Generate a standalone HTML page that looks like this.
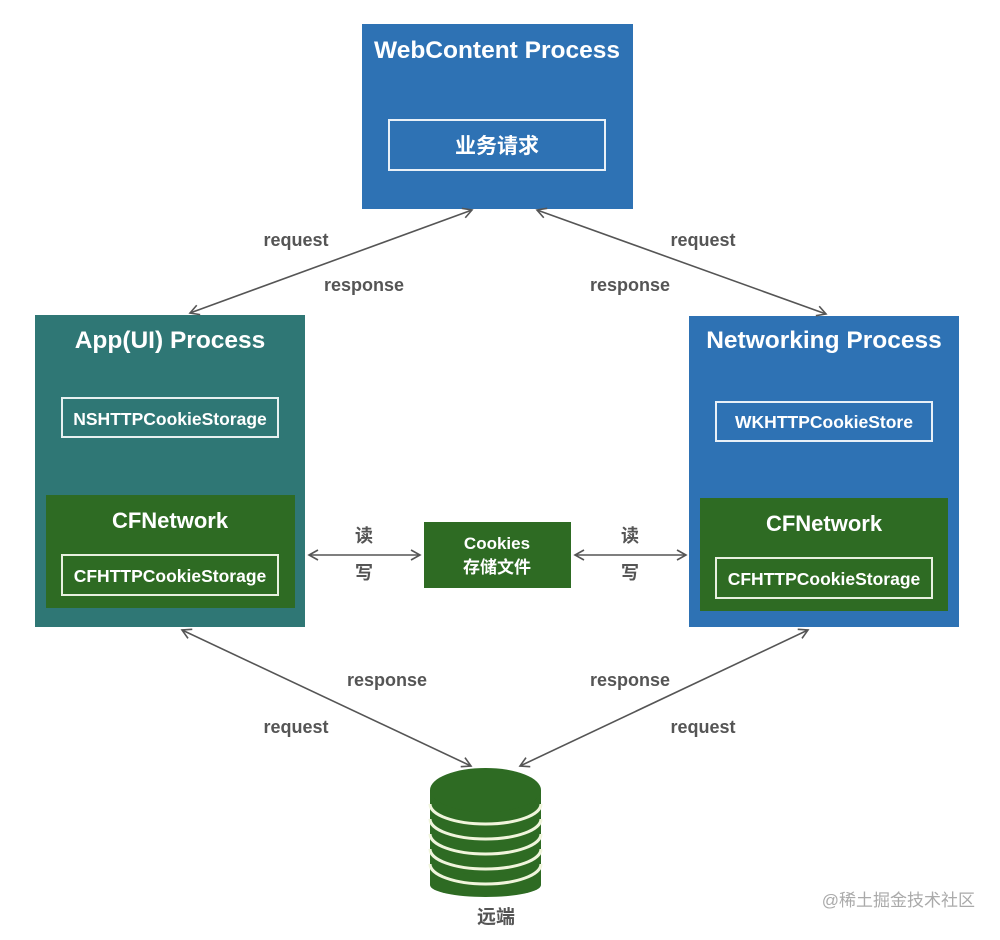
<!DOCTYPE html>
<html><head><meta charset="utf-8"><style>
body{margin:0;background:#fff;}
svg text{font-family:"Liberation Sans","Noto Sans CJK SC",sans-serif;font-weight:bold;}
</style></head><body>
<svg width="1000" height="935" viewBox="0 0 1000 935" xmlns="http://www.w3.org/2000/svg">
<defs>
<marker id="a" markerWidth="12" markerHeight="12" refX="10" refY="6" orient="auto-start-reverse" markerUnits="userSpaceOnUse">
<path d="M1,1 L10,6 L1,11" fill="none" stroke="#555" stroke-width="1.6"/>
</marker>
</defs>
<rect x="362" y="24" width="271" height="185" fill="#2e72b4"/>
<text x="497" y="58" fill="#fff" font-size="24.5" text-anchor="middle">WebContent Process</text>
<rect x="389" y="120" width="216" height="50" fill="none" stroke="#e8f0f8" stroke-width="2"/>
<text x="497" y="153" fill="#fff" font-size="21" text-anchor="middle">业务请求</text>
<rect x="35" y="315" width="270" height="312" fill="#2f7775"/>
<text x="170" y="348" fill="#fff" font-size="24.5" text-anchor="middle">App(UI) Process</text>
<rect x="62" y="398" width="216" height="39" fill="none" stroke="#e8f0f0" stroke-width="2"/>
<text x="170" y="425" fill="#fff" font-size="17.5" text-anchor="middle">NSHTTPCookieStorage</text>
<rect x="46" y="495" width="249" height="113" fill="#2e6b23"/>
<text x="170" y="528" fill="#fff" font-size="22" text-anchor="middle">CFNetwork</text>
<rect x="62" y="555" width="216" height="40" fill="none" stroke="#e8f0e0" stroke-width="2"/>
<text x="170" y="582" fill="#fff" font-size="17.5" text-anchor="middle">CFHTTPCookieStorage</text>
<rect x="689" y="316" width="270" height="311" fill="#2e72b4"/>
<text x="824" y="348" fill="#fff" font-size="24.5" text-anchor="middle">Networking Process</text>
<rect x="716" y="402" width="216" height="39" fill="none" stroke="#e8f0f8" stroke-width="2"/>
<text x="824" y="428" fill="#fff" font-size="17.5" text-anchor="middle">WKHTTPCookieStore</text>
<rect x="700" y="498" width="248" height="113" fill="#2e6b23"/>
<text x="824" y="531" fill="#fff" font-size="22" text-anchor="middle">CFNetwork</text>
<rect x="716" y="558" width="216" height="40" fill="none" stroke="#e8f0e0" stroke-width="2"/>
<text x="824" y="585" fill="#fff" font-size="17.5" text-anchor="middle">CFHTTPCookieStorage</text>
<rect x="424" y="522" width="147" height="66" fill="#2e6b23"/>
<text x="497" y="549" fill="#fff" font-size="17" text-anchor="middle">Cookies</text>
<text x="497" y="573" fill="#fff" font-size="17" text-anchor="middle">存储文件</text>
<g stroke="#555" stroke-width="1.6" fill="none">
<line x1="190" y1="313" x2="472" y2="210" marker-start="url(#a)" marker-end="url(#a)"/>
<line x1="537" y1="210" x2="826" y2="314" marker-start="url(#a)" marker-end="url(#a)"/>
<line x1="182" y1="630" x2="471" y2="766" marker-start="url(#a)" marker-end="url(#a)"/>
<line x1="520" y1="766" x2="808" y2="630" marker-start="url(#a)" marker-end="url(#a)"/>
<line x1="309" y1="555" x2="420" y2="555" marker-start="url(#a)" marker-end="url(#a)"/>
<line x1="575" y1="555" x2="686" y2="555" marker-start="url(#a)" marker-end="url(#a)"/>
</g>
<g fill="#555" font-size="18" text-anchor="middle">
<text x="296" y="246">request</text>
<text x="364" y="291">response</text>
<text x="703" y="246">request</text>
<text x="630" y="291">response</text>
<text x="387" y="686">response</text>
<text x="296" y="733">request</text>
<text x="630" y="686">response</text>
<text x="703" y="733">request</text>
<text x="364" y="542">读</text>
<text x="364" y="579">写</text>
<text x="630" y="542">读</text>
<text x="630" y="579">写</text>
<text x="496" y="923" font-size="19">远端</text>
</g>
<g>
<rect x="430" y="790" width="111" height="95" fill="#2e6b23"/>
<ellipse cx="485.5" cy="885" rx="55.5" ry="12" fill="#2e6b23"/>
<g fill="none" stroke="#f0f5dc" stroke-width="3">
<path d="M430,804 a55.5,20 0 0 0 111,0"/>
<path d="M430,819 a55.5,20 0 0 0 111,0"/>
<path d="M430,834 a55.5,20 0 0 0 111,0"/>
<path d="M430,849 a55.5,20 0 0 0 111,0"/>
<path d="M430,864 a55.5,20 0 0 0 111,0"/>
</g>
<ellipse cx="485.5" cy="790" rx="55.5" ry="22" fill="#2e6b23"/>
</g>
<text x="975" y="906" fill="#aaa" font-size="17" text-anchor="end" style="font-weight:normal">@稀土掘金技术社区</text>
</svg>
</body></html>
